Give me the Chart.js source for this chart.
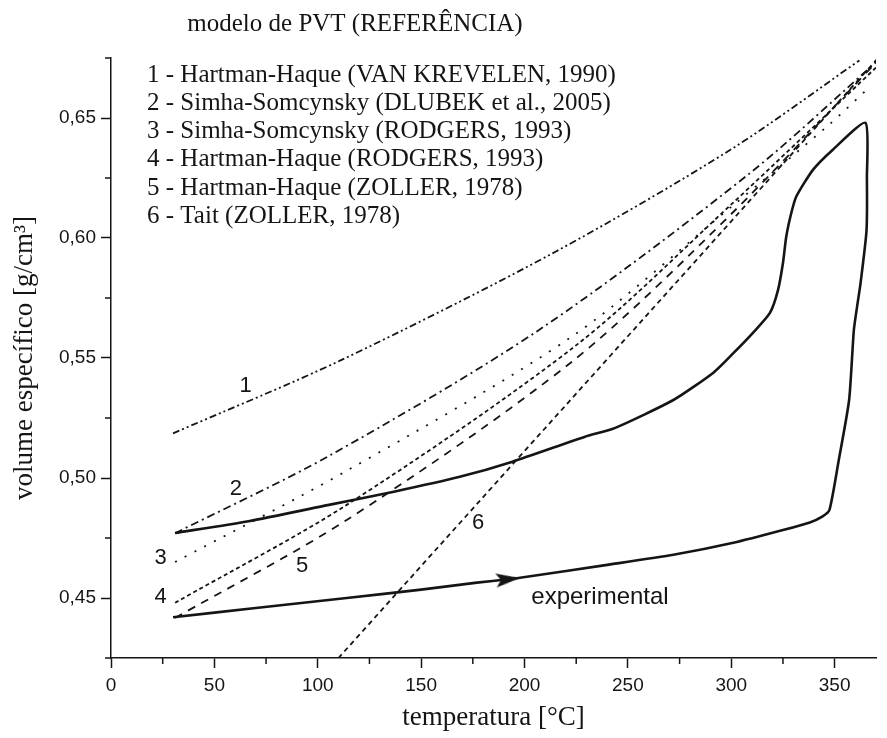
<!DOCTYPE html>
<html>
<head>
<meta charset="utf-8">
<script src="https://cdn.jsdelivr.net/npm/chart.js@4.4.0/dist/chart.umd.min.js"></script>
<style>
  html, body { margin: 0; padding: 0; background: #fff; }
</style>
</head>
<body>
<canvas id="graficoPVT" width="887" height="738"></canvas>
<script>
// === DADOS ===
const tituloGrafico = 'modelo de PVT (REFERÊNCIA)';

const nomesModelos = [
    '1 - Hartman-Haque (VAN KREVELEN, 1990)',
    '2 - Simha-Somcynsky (DLUBEK et al., 2005)',
    '3 - Simha-Somcynsky (RODGERS, 1993)',
    '4 - Hartman-Haque (RODGERS, 1993)',
    '5 - Hartman-Haque (ZOLLER, 1978)',
    '6 - Tait (ZOLLER, 1978)'
];

// experimental: aquecimento -> topo -> resfriamento
const expT = [30, 70, 114, 150, 177, 192, 197, 240, 272, 301, 325, 338, 344, 347.5, 352, 357, 359.3, 361.3, 362.5, 365.4, 365.6, 364.9,
              349, 339.4, 331.4, 329, 326.6, 325, 322.6, 318.7, 310.7, 301, 291.5, 272, 243.6, 229.3, 194.2, 168.7, 136.8, 104.8, 66.5, 31];
const expV = [0.442, 0.4458, 0.450, 0.4535, 0.4564, 0.4578, 0.4583, 0.4638, 0.468, 0.473, 0.4783, 0.4815, 0.4839, 0.4867, 0.5075, 0.5325, 0.5617, 0.574, 0.581, 0.603, 0.625, 0.648,
              0.6367, 0.6283, 0.6172, 0.6103, 0.6006, 0.5896, 0.5783, 0.5688, 0.5607, 0.552, 0.544, 0.5325, 0.5208, 0.5172, 0.5068, 0.5005, 0.4943, 0.4887, 0.482, 0.4771];
const setaIdx = 5;

const m1T = [30, 111, 215, 300, 362];
const m1V = [0.5186, 0.549, 0.5943, 0.637, 0.674];
const m2T = [31, 105, 207, 309, 371];
const m2V = [0.477, 0.509, 0.5617, 0.627, 0.674];
const m3T = [31, 114, 223, 300, 347, 367];
const m3V = [0.465, 0.503, 0.559, 0.613, 0.647, 0.663];
const m4T = [31, 114, 226, 300, 370];
const m4V = [0.448, 0.4888, 0.556, 0.614, 0.671];
const m5T = [31, 114, 223, 300, 371];
const m5V = [0.4417, 0.4825, 0.5485, 0.61, 0.674];
const m6T = [110, 371];
const m6V = [0.425, 0.675];

// rotulos das curvas (em coordenadas de dados)
const rotulosTexto = ['1', '2', '3', '4', '5', '6', 'experimental'];
const rotulosT = [65.1, 60.4, 24, 24, 92.4, 177.6, 236.5];
const rotulosV = [0.5383, 0.4954, 0.4667, 0.4504, 0.4633, 0.4813, 0.4504];

// === ESTILO ===
const tinta = '#151515';
const serif = '"Liberation Serif", "Times New Roman", serif';
const sans = '"Liberation Sans", Arial, sans-serif';

const pares = (T, V) => T.map((t, i) => ({ x: t, y: V[i] }));
const ehMajor = (v, passo) => Math.abs(v / passo - Math.round(v / passo)) < 1e-6;

// ponta de seta alongada (aponta para a direita)
const seta = document.createElement('canvas');
seta.width = 24;
seta.height = 14;
(() => {
    const c = seta.getContext('2d');
    c.fillStyle = tinta;
    c.beginPath();
    c.moveTo(24, 7);
    c.lineTo(0, 0);
    c.lineTo(5, 7);
    c.lineTo(0, 14);
    c.closePath();
    c.fill();
})();

function modelo(T, V, dash) {
    return {
        data: pares(T, V),
        showLine: true,
        borderColor: tinta,
        borderWidth: 1.8,
        borderDash: dash,
        pointRadius: 0,
        tension: 0.3
    };
}

const datasets = [
    modelo(m1T, m1V, [7, 3, 2, 3, 2, 3]),
    modelo(m2T, m2V, [8, 4, 2, 4]),
    modelo(m3T, m3V, [2, 9]),
    modelo(m4T, m4V, [4, 3]),
    modelo(m5T, m5V, [8, 7]),
    modelo(m6T, m6V, [5, 4]),
    {
        data: pares(expT, expV),
        showLine: true,
        borderColor: tinta,
        borderWidth: 2.6,
        pointRadius: 0,
        tension: 0.2
    },
    {
        data: [{ x: expT[setaIdx], y: expV[setaIdx] }],
        showLine: false,
        pointStyle: seta,
        pointRadius: 10,
        rotation: -6
    }
];

// === DESENHO EXTRA: ticks menores, titulo, legenda, rotulos ===
const extras = {
    id: 'extras',
    afterDraw(chart) {
        const { ctx, chartArea, scales: { x, y } } = chart;
        ctx.save();
        ctx.strokeStyle = tinta;
        ctx.lineWidth = 1.5;
        x.ticks.forEach(t => {
            if (ehMajor(t.value, 50)) return;
            const px = x.getPixelForValue(t.value);
            ctx.beginPath();
            ctx.moveTo(px, chartArea.bottom);
            ctx.lineTo(px, chartArea.bottom + 6);
            ctx.stroke();
        });
        y.ticks.forEach(t => {
            if (ehMajor(t.value, 0.05)) return;
            const py = y.getPixelForValue(t.value);
            ctx.beginPath();
            ctx.moveTo(chartArea.left - 6, py);
            ctx.lineTo(chartArea.left, py);
            ctx.stroke();
        });

        ctx.fillStyle = tinta;
        ctx.textBaseline = 'middle';
        ctx.font = '25px ' + serif;
        ctx.textAlign = 'center';
        ctx.fillText(tituloGrafico, 355, 24);

        ctx.textAlign = 'left';
        nomesModelos.forEach((n, i) => ctx.fillText(n, 147, 75 + i * 28.3));

        ctx.textAlign = 'center';
        rotulosTexto.forEach((s, i) => {
            ctx.font = (s.length > 1 ? '24px ' : '22px ') + sans;
            ctx.fillText(s, x.getPixelForValue(rotulosT[i]), y.getPixelForValue(rotulosV[i]));
        });
        ctx.restore();
    }
};

new Chart(document.getElementById('graficoPVT'), {
    type: 'scatter',
    data: { datasets },
    options: {
        responsive: false,
        animation: false,
        layout: { padding: { left: 0, right: 3, top: 58, bottom: 0 } },
        plugins: { legend: { display: false }, tooltip: { enabled: false } },
        scales: {
            x: {
                type: 'linear',
                min: 0,
                max: 370,
                afterFit: s => { s.height = 80; },
                ticks: {
                    stepSize: 25,
                    includeBounds: false,
                    autoSkip: false,
                    maxRotation: 0,
                    padding: 6,
                    color: tinta,
                    font: { family: sans, size: 19 },
                    callback: v => ehMajor(v, 50) ? String(v) : ''
                },
                grid: {
                    drawOnChartArea: false,
                    tickLength: 10,
                    tickWidth: 1.5,
                    tickColor: c => ehMajor(c.tick.value, 50) ? tinta : 'rgba(0,0,0,0)'
                },
                border: { color: tinta, width: 1.5 },
                title: {
                    display: true,
                    text: 'temperatura [°C]',
                    color: tinta,
                    font: { family: serif, size: 27 },
                    padding: { top: 0, bottom: 4 }
                }
            },
            y: {
                type: 'linear',
                min: 0.425,
                max: 0.675,
                afterFit: s => { s.width = 111; },
                ticks: {
                    stepSize: 0.025,
                    autoSkip: false,
                    padding: 5,
                    color: tinta,
                    font: { family: sans, size: 19 },
                    callback: v => ehMajor(v, 0.05) ? v.toFixed(2).replace('.', ',') : ''
                },
                grid: {
                    drawOnChartArea: false,
                    tickLength: 10,
                    tickWidth: 1.5,
                    tickColor: c => ehMajor(c.tick.value, 0.05) ? tinta : 'rgba(0,0,0,0)'
                },
                border: { color: tinta, width: 1.5 },
                title: {
                    display: true,
                    text: 'volume específico [g/cm³]',
                    color: tinta,
                    font: { family: serif, size: 27 },
                    padding: { top: 9, bottom: 0 }
                }
            }
        }
    },
    plugins: [extras]
});
</script>
</body>
</html>
